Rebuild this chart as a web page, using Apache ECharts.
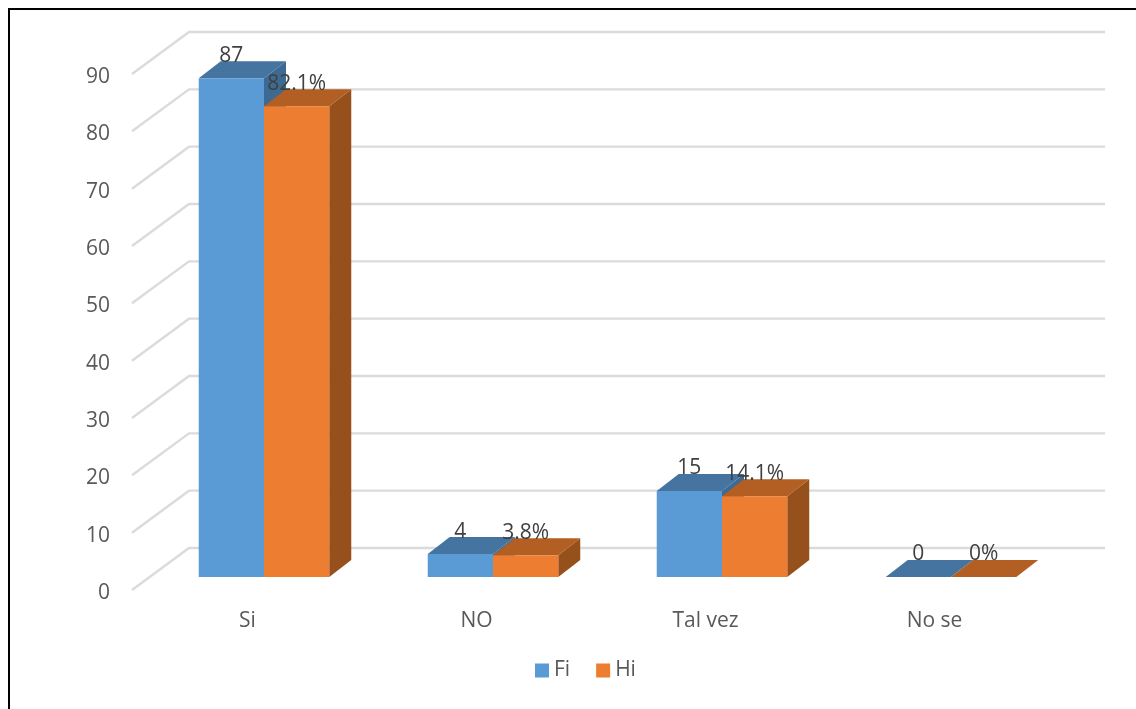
<!DOCTYPE html>
<html>
<head>
<meta charset="utf-8">
<style>html,body{margin:0;padding:0;background:#fff}#c{width:1136px;height:709px}</style>
<script src="https://cdn.jsdelivr.net/npm/echarts@6/dist/echarts.min.js"></script>
</head>
<body>
<div id="c"></div>
<script>
const categories = ['Si', 'NO', 'Tal vez', 'No se'];
const fiValues = [87, 4, 15, 0];
const hiValues = [82.1, 3.8, 14.1, 0];
const yTicks = [0, 10, 20, 30, 40, 50, 60, 70, 80, 90];

const FONT = '"Open Sans", sans-serif';
const floorShift = [16.5, -13];
const barDepth = [22, -17];
const wallDepth = [56, -42];
const barShare = 0.285;

function gridRender(params, api) {
  const y = api.coord([0, api.value(1)])[1];
  const cs = params.coordSys;
  const x0 = cs.x - 1;
  return {
    type: 'polyline',
    silent: true,
    shape: { points: [[x0, y], [x0 + wallDepth[0] + 1, y + wallDepth[1]], [cs.x + cs.width + wallDepth[0], y + wallDepth[1]]] },
    style: { stroke: '#DBDBDB', lineWidth: 2.4, fill: null }
  };
}

function barRender(side, colors, suffix) {
  return function (params, api) {
    const idx = api.value(0), val = api.value(1);
    const top = api.coord([idx, val]);
    const base = api.coord([idx, 0]);
    const w = api.size([1, 0])[0] * barShare;
    const cx = top[0] + floorShift[0];
    const x0 = side < 0 ? cx - w : cx;
    const x1 = x0 + w;
    const yT = top[1] + floorShift[1];
    const yB = base[1] + floorShift[1];
    const dx = barDepth[0], dy = barDepth[1];
    return {
      type: 'group',
      children: [
        { type: 'polygon', shape: { points: [[x1, yT], [x1 + dx, yT + dy], [x1 + dx, yB + dy], [x1, yB]] }, style: { fill: colors.side } },
        { type: 'polygon', shape: { points: [[x0, yT], [x0 + dx, yT + dy], [x1 + dx, yT + dy], [x1, yT]] }, style: { fill: colors.top } },
        { type: 'rect', shape: { x: x0, y: yT, width: w, height: yB - yT }, style: { fill: colors.front } },
        { type: 'text', z2: 100, style: { text: val + suffix, x: (x0 + x1) / 2, y: yT - 22.5, textAlign: 'center', textVerticalAlign: 'middle', fill: '#404040', font: '21px ' + FONT } }
      ]
    };
  };
}

const blue = { front: '#5B9BD5', top: '#44749F', side: '#3D6A93' };
const orange = { front: '#ED7D31', top: '#B35E22', side: '#95501C' };

const chart = echarts.init(document.getElementById('c'), null, { renderer: 'canvas' });
chart.setOption({
  animation: false,
  backgroundColor: '#ffffff',
  grid: { left: 133, top: 74, width: 916, height: 516 },
  xAxis: {
    type: 'category',
    data: categories,
    axisLine: { show: false },
    axisTick: { show: false },
    axisLabel: { color: '#595959', fontSize: 21, fontFamily: FONT, margin: 21 }
  },
  yAxis: {
    type: 'value',
    min: 0,
    max: 90,
    interval: 10,
    axisLine: { show: false },
    axisTick: { show: false },
    splitLine: { show: false },
    axisLabel: {
      color: '#595959', fontSize: 21, fontFamily: FONT, margin: 23,
      formatter: '{a|{value}}',
      rich: { a: { color: '#595959', fontSize: 21, fontFamily: FONT, padding: [6, 0, 0, 0] } }
    }
  },
  legend: {
    data: ['Fi', 'Hi'],
    left: 530,
    top: 655,
    icon: 'rect',
    itemWidth: 14,
    itemHeight: 14,
    itemGap: 26,
    selectedMode: false,
    textStyle: { color: '#595959', fontSize: 21, fontFamily: FONT }
  },
  graphic: [{
    type: 'polyline',
    silent: true,
    shape: { points: [[9, 709], [9, 9], [1136, 9]] },
    style: { stroke: '#000000', lineWidth: 2, fill: null }
  }],
  series: [
    {
      type: 'custom',
      name: 'grid',
      z: 1,
      silent: true,
      renderItem: gridRender,
      encode: { x: 0, y: 1 },
      data: yTicks.map(t => [0, t])
    },
    {
      type: 'custom',
      name: 'Fi',
      z: 2,
      itemStyle: { color: blue.front },
      renderItem: barRender(-1, blue, ''),
      encode: { x: 0, y: 1 },
      data: fiValues.map((v, i) => [i, v])
    },
    {
      type: 'custom',
      name: 'Hi',
      z: 3,
      itemStyle: { color: orange.front },
      renderItem: barRender(1, orange, '%'),
      encode: { x: 0, y: 1 },
      data: hiValues.map((v, i) => [i, v])
    }
  ]
});
</script>
</body>
</html>
